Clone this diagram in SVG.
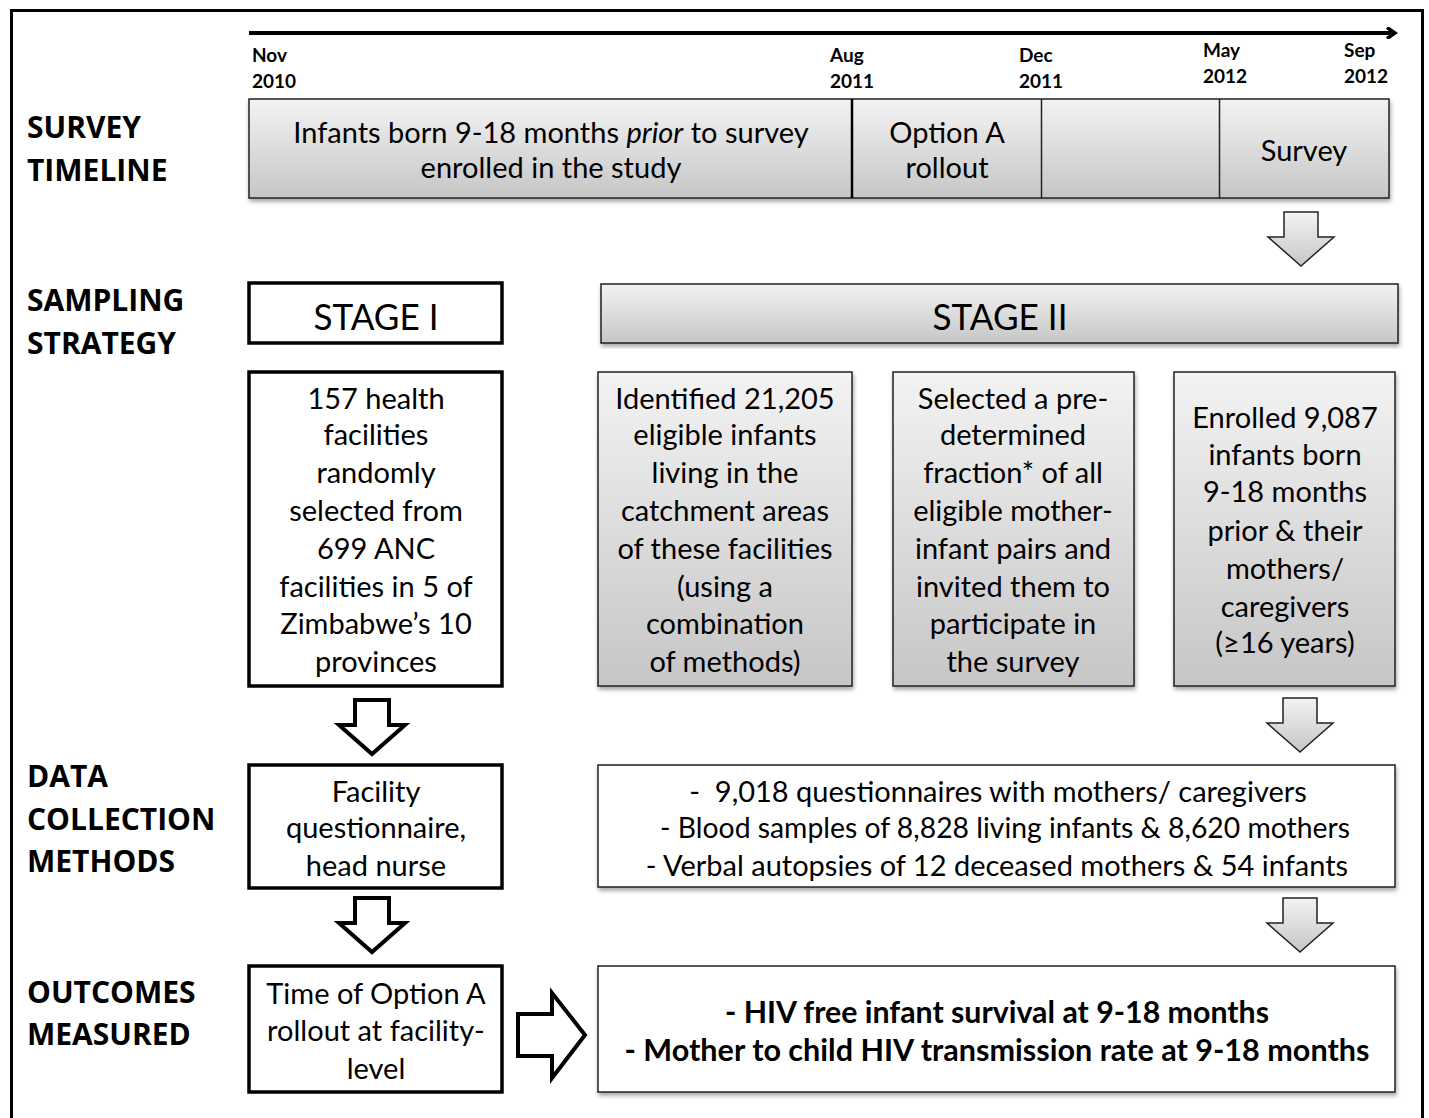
<svg xmlns="http://www.w3.org/2000/svg" width="1429" height="1118" viewBox="0 0 1429 1118">
<defs>
<linearGradient id="g" x1="0" y1="0" x2="0" y2="1">
<stop offset="0" stop-color="#f3f3f3"/>
<stop offset="1" stop-color="#c6c6c6"/>
</linearGradient>
<filter id="sh" x="-5%" y="-5%" width="110%" height="115%">
<feDropShadow dx="1" dy="3" stdDeviation="2" flood-color="#000" flood-opacity="0.35"/>
</filter>
<marker id="ah" markerWidth="12" markerHeight="12" refX="8" refY="6" orient="auto" markerUnits="userSpaceOnUse" viewBox="0 0 12 12">
<path d="M1,0.5 L9,6 L1,11.5" fill="none" stroke="#000" stroke-width="3.5"/>
</marker>
<path id="darrow" d="M-17,0 H17 V25 H33 L0,54 L-33,25 H-17 Z"/>
</defs>
<style>
.sec{font-family:"Open Sans","DejaVu Sans",sans-serif;font-weight:bold;font-size:30px;fill:#000}
.date{font-family:Lato,"Liberation Sans",sans-serif;font-weight:bold;font-size:19px;fill:#000}
.t{font-family:Lato,"Liberation Sans",sans-serif;font-size:29px;fill:#000;text-anchor:middle}
.tb{font-family:Lato,"Liberation Sans",sans-serif;font-size:30px;font-weight:bold;fill:#000;text-anchor:middle}
.stg{font-family:Lato,"Liberation Sans",sans-serif;font-size:37px;fill:#000;text-anchor:middle}
.gbox{fill:url(#g);stroke:#222;stroke-width:1.5;filter:url(#sh)}
.wbox{fill:#fff;stroke:#222;stroke-width:1.5;filter:url(#sh)}
.kbox{fill:#fff;stroke:#000;stroke-width:3.5}
.karrow{fill:#fff;stroke:#000;stroke-width:4;stroke-linejoin:miter}
.garrow{fill:url(#g);stroke:#222;stroke-width:1.5}
</style>
<rect width="1429" height="1118" fill="#fff"/>
<rect x="11.5" y="10.5" width="1411" height="1110" fill="none" stroke="#000" stroke-width="3"/>

<g id="labels">
<text class="sec" x="27" y="138">SURVEY</text>
<text class="sec" x="27" y="181">TIMELINE</text>
<text class="sec" x="27" y="311">SAMPLING</text>
<text class="sec" x="27" y="354">STRATEGY</text>
<text class="sec" x="27" y="787">DATA</text>
<text class="sec" x="27" y="830">COLLECTION</text>
<text class="sec" x="27" y="872">METHODS</text>
<text class="sec" x="27" y="1003">OUTCOMES</text>
<text class="sec" x="27" y="1045">MEASURED</text>
</g>

<g id="timeline-axis">
<line x1="249" y1="33" x2="1394" y2="33" stroke="#000" stroke-width="4" marker-end="url(#ah)"/>
<text class="date" x="252" y="62">Nov</text>
<text class="date" x="252" y="88">2010</text>
<text class="date" x="830" y="62">Aug</text>
<text class="date" x="830" y="88">2011</text>
<text class="date" x="1019" y="62">Dec</text>
<text class="date" x="1019" y="88">2011</text>
<text class="date" x="1203" y="57">May</text>
<text class="date" x="1203" y="83">2012</text>
<text class="date" x="1344" y="57">Sep</text>
<text class="date" x="1344" y="83">2012</text>
</g>

<g id="timeline-box">
<rect class="gbox" x="249" y="99" width="1140" height="99"/>
<line x1="852" y1="99" x2="852" y2="198" stroke="#000" stroke-width="2.5"/>
<line x1="1041.5" y1="99" x2="1041.5" y2="198" stroke="#222" stroke-width="1.5"/>
<line x1="1219.5" y1="99" x2="1219.5" y2="198" stroke="#222" stroke-width="1.5"/>
<text class="t" x="551" y="143">Infants born 9-18 months <tspan font-style="italic">prior</tspan> to survey</text>
<text class="t" x="551" y="178">enrolled in the study</text>
<text class="t" x="947" y="143">Option A</text>
<text class="t" x="947" y="178">rollout</text>
<text class="t" x="1304" y="161">Survey</text>
</g>

<g id="stage1">
<rect class="kbox" x="249" y="283" width="253" height="60"/>
<text class="stg" x="376" y="330" textLength="125" lengthAdjust="spacingAndGlyphs">STAGE I</text>
</g>
<g id="stage2">
<rect class="gbox" x="601" y="284" width="797" height="59"/>
<text class="stg" x="1000" y="330" textLength="135" lengthAdjust="spacingAndGlyphs">STAGE II</text>
</g>

<g id="facilities">
<rect class="kbox" x="249" y="372" width="253" height="314"/>
<text class="t" x="376" y="409">157 health</text>
<text class="t" x="376" y="445">facilities</text>
<text class="t" x="376" y="483">randomly</text>
<text class="t" x="376" y="521">selected from</text>
<text class="t" x="376" y="559">699 ANC</text>
<text class="t" x="376" y="597">facilities in 5 of</text>
<text class="t" x="376" y="634">Zimbabwe’s 10</text>
<text class="t" x="376" y="672">provinces</text>
</g>

<g id="identified">
<rect class="gbox" x="598" y="372" width="254" height="314"/>
<text class="t" x="725" y="409">Identified 21,205</text>
<text class="t" x="725" y="445">eligible infants</text>
<text class="t" x="725" y="483">living in the</text>
<text class="t" x="725" y="521">catchment areas</text>
<text class="t" x="725" y="559">of these facilities</text>
<text class="t" x="725" y="597">(using a</text>
<text class="t" x="725" y="634">combination</text>
<text class="t" x="725" y="672">of methods)</text>
</g>

<g id="selected">
<rect class="gbox" x="893" y="372" width="241" height="314"/>
<text class="t" x="1013" y="409">Selected a pre-</text>
<text class="t" x="1013" y="445">determined</text>
<text class="t" x="1013" y="483">fraction* of all</text>
<text class="t" x="1013" y="521">eligible mother-</text>
<text class="t" x="1013" y="559">infant pairs and</text>
<text class="t" x="1013" y="597">invited them to</text>
<text class="t" x="1013" y="634">participate in</text>
<text class="t" x="1013" y="672">the survey</text>
</g>

<g id="enrolled">
<rect class="gbox" x="1174" y="372" width="221" height="314"/>
<text class="t" x="1285" y="428">Enrolled 9,087</text>
<text class="t" x="1285" y="465">infants born</text>
<text class="t" x="1285" y="502">9-18 months</text>
<text class="t" x="1285" y="541">prior &amp; their</text>
<text class="t" x="1285" y="579">mothers/</text>
<text class="t" x="1285" y="617">caregivers</text>
<text class="t" x="1285" y="653">(≥16 years)</text>
</g>

<g id="facility-questionnaire">
<rect class="kbox" x="249" y="765" width="253" height="123"/>
<text class="t" x="376" y="802">Facility</text>
<text class="t" x="376" y="838">questionnaire,</text>
<text class="t" x="376" y="876">head nurse</text>
</g>

<g id="data-methods">
<rect class="wbox" x="598" y="765" width="797" height="122"/>
<text class="t" x="998" y="802" xml:space="preserve">-  9,018 questionnaires with mothers/ caregivers</text>
<text class="t" x="1005" y="838" textLength="690" lengthAdjust="spacingAndGlyphs">- Blood samples of 8,828 living infants &amp; 8,620 mothers</text>
<text class="t" x="997" y="876">- Verbal autopsies of 12 deceased mothers &amp; 54 infants</text>
</g>

<g id="option-time">
<rect class="kbox" x="249" y="966" width="253" height="126"/>
<text class="t" x="376" y="1004">Time of Option A</text>
<text class="t" x="376" y="1041">rollout at facility-</text>
<text class="t" x="376" y="1079">level</text>
</g>

<g id="outcomes">
<rect class="wbox" x="598" y="966" width="797" height="126"/>
<text class="tb" x="997" y="1023" textLength="544" lengthAdjust="spacingAndGlyphs">- HIV free infant survival at 9-18 months</text>
<text class="tb" x="997" y="1061" textLength="745" lengthAdjust="spacingAndGlyphs">- Mother to child HIV transmission rate at 9-18 months</text>
</g>

<g id="connectors">
<use href="#darrow" class="garrow" x="1301" y="212"/>
<use href="#darrow" class="karrow" x="372" y="700"/>
<use href="#darrow" class="karrow" x="372" y="898"/>
<use href="#darrow" class="garrow" x="1300" y="698"/>
<use href="#darrow" class="garrow" x="1300" y="898"/>
<path class="karrow" d="M518,1014 H552 V993 L585,1035 L552,1078 V1056 H518 Z"/>
</g>
</svg>
